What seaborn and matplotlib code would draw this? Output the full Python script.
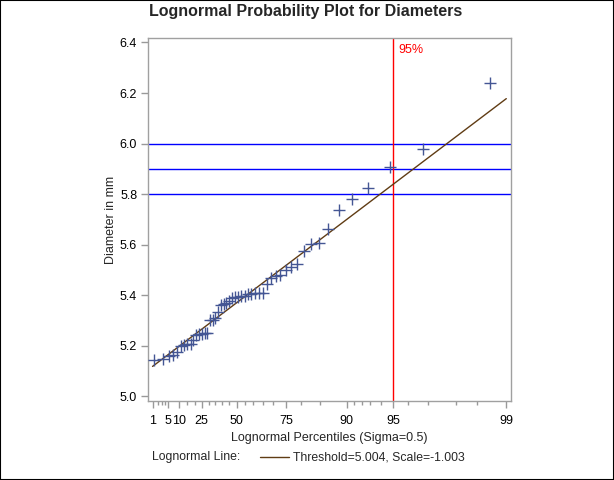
import numpy as np
import pandas as pd
import seaborn as sns
import matplotlib
matplotlib.use("Agg")
import matplotlib.pyplot as plt
from matplotlib.lines import Line2D
from matplotlib.patches import Rectangle
from matplotlib.ticker import FixedLocator
from statistics import NormalDist

# Diameter measurements (mm)
diameters = [5.501, 5.251, 5.404, 5.366, 5.445, 5.576, 5.607,
             5.200, 5.977, 5.177, 5.332, 5.399, 5.661, 5.512,
             5.252, 5.404, 5.739, 5.525, 5.160, 5.410, 5.823,
             5.376, 5.202, 5.470, 5.410, 5.394, 5.146, 5.244,
             5.309, 5.480, 5.388, 5.399, 5.360, 5.368, 5.394,
             5.248, 5.409, 5.304, 6.239, 5.781, 5.247, 5.907,
             5.208, 5.143, 5.304, 5.603, 5.164, 5.209, 5.475,
             5.223]

sigma = 0.5
threshold = 5.004
scale_param = -1.003
ref_lines = [5.8, 5.9, 6.0]
pct_line = 95

major_ticks = [1, 5, 10, 25, 50, 75, 90, 95, 99]
minor_ticks = [2, 3, 4, 15, 20, 30, 35, 40, 45, 55, 60, 65, 70, 80, 85,
               91, 92, 93, 94, 96, 97, 98, 98.5]
y_ticks = [5.0, 5.2, 5.4, 5.6, 5.8, 6.0, 6.2, 6.4]

nd = NormalDist()
_inv = np.vectorize(lambda p: nd.inv_cdf(p))
_cdf = np.vectorize(lambda z: nd.cdf(z))


def forward(p):
    p = np.clip(np.asarray(p, dtype=float) / 100.0, 1e-9, 1 - 1e-9)
    return np.exp(sigma * _inv(p))


def inverse(q):
    q = np.clip(np.asarray(q, dtype=float), 1e-9, None)
    return 100.0 * _cdf(np.log(q) / sigma)


# plotting positions (Blom-type, as SAS uses)
df = pd.DataFrame({"Diameter": sorted(diameters)})
n = len(df)
df["Percentile"] = 100 * (np.arange(1, n + 1) - 0.375) / (n + 0.25)

fit = pd.DataFrame({"Percentile": [1, 99]})
fit["Diameter"] = threshold + np.exp(scale_param) * forward(fit["Percentile"])

sns.set_theme(style="white")
plt.rcParams["font.family"] = ["Liberation Sans", "DejaVu Sans"]

fig = plt.figure(figsize=(6.14, 4.8), dpi=100)
ax = fig.add_axes([0.2415, 0.1652, 0.590, 0.7548])

for y in ref_lines:
    ax.axhline(y, color="#0000ff", lw=1, zorder=1)
ax.axvline(pct_line, color="#ff0000", lw=1, zorder=1)

sns.lineplot(data=fit, x="Percentile", y="Diameter", ax=ax,
             color="#603c14", lw=1, zorder=2)
sns.scatterplot(data=df, x="Percentile", y="Diameter", ax=ax,
                marker="+", s=70, color="#445694", linewidth=1, zorder=3)

ax.set_xscale("function", functions=(forward, inverse))
ax.set_xlim(0.52, 99.056)
ax.set_ylim(4.983, 6.416)

ax.xaxis.set_major_locator(FixedLocator(major_ticks))
ax.xaxis.set_minor_locator(FixedLocator(minor_ticks))
ax.set_xticklabels([str(t) for t in major_ticks])
ax.set_yticks(y_ticks)
ax.set_yticklabels([f"{t:.1f}" for t in y_ticks])

ax.tick_params(axis="both", which="major", length=5, width=1, color="#999999",
               labelsize=9, labelcolor="black", pad=3)
ax.tick_params(axis="x", which="major", pad=5)
ax.tick_params(axis="x", which="minor", length=3, width=1, color="#999999",
               bottom=True)
ax.tick_params(bottom=True, left=True)

for sp in ax.spines.values():
    sp.set_color("#a0a0a0")
    sp.set_linewidth(1)

ax.set_xlabel("")
ax.set_ylabel("Diameter in mm", fontsize=9, labelpad=2)

ax.annotate("95%", xy=(pct_line, 0.969), xycoords=("data", "axes fraction"),
            xytext=(5, 0), textcoords="offset pixels", color="#ff0000",
            fontsize=9, ha="left", va="center")

fig.text(0.497, 0.976, "Lognormal Probability Plot for Diameters",
         ha="center", va="center", fontsize=11.5, fontweight="bold")
fig.text(329.5 / 614, 1 - 438 / 480, "Lognormal Percentiles (Sigma=0.5)",
         ha="center", va="center", fontsize=9)

# legend row
ly = 1 - 457 / 480
fig.text(152 / 614, ly, "Lognormal Line:", ha="left", va="center", fontsize=8.8)
fig.add_artist(Line2D([260 / 614, 289 / 614], [ly, ly], color="#603c14", lw=1,
                      transform=fig.transFigure))
fig.text(293 / 614, ly, "Threshold=5.004, Scale=-1.003", ha="left",
         va="center", fontsize=8.8)

fig.add_artist(Rectangle((0, 0), 1, 1, transform=fig.transFigure, fill=False,
                         edgecolor="black", lw=1.5))

fig.savefig("out.png", dpi=100)
